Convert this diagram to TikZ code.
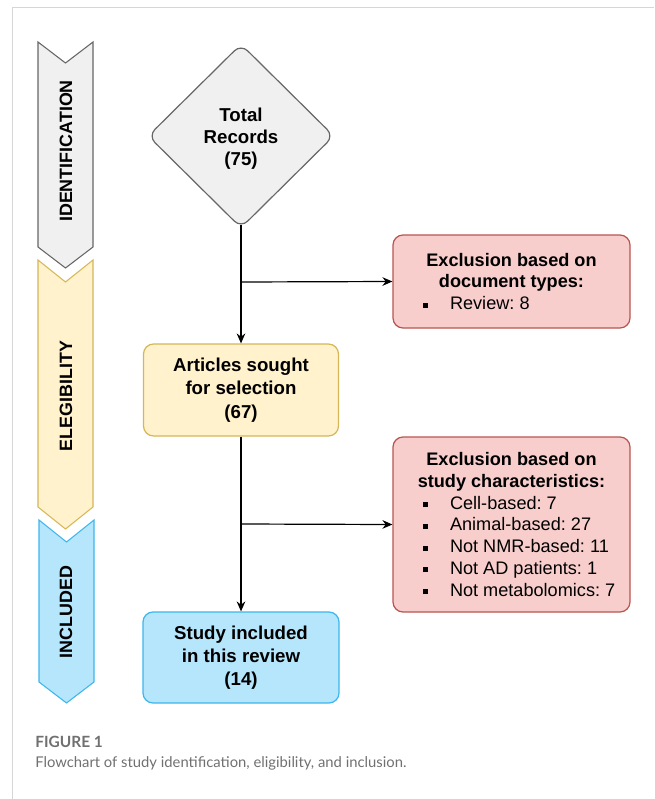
\documentclass[tikz,border=0pt]{standalone}
\usepackage{fontspec}
\setmainfont{Liberation Sans}
\newfontfamily\capfont{Lato}
\usetikzlibrary{shapes.geometric,arrows.meta}
\definecolor{gfill}{HTML}{F0F0F0}
\definecolor{gline}{HTML}{666666}
\definecolor{yfill}{HTML}{FFF2CC}
\definecolor{yline}{HTML}{D6B656}
\definecolor{rfill}{HTML}{F8CECC}
\definecolor{rline}{HTML}{B85450}
\definecolor{bfill}{HTML}{B5E6FB}
\definecolor{bline}{HTML}{3DB6EE}
\definecolor{frame}{HTML}{D6D6D6}
\definecolor{captxt}{HTML}{707070}
\frenchspacing
\newcommand\bul{\hspace*{22.5pt}\rule[1.6pt]{3.75pt}{3.75pt}\hspace*{16.5pt}}
\newcommand\itm[1]{\makebox[177.75pt][l]{\bul #1}}
\begin{document}
\begin{tikzpicture}[x=0.75pt,y=-0.75pt,
  chev/.style={line width=0.8pt, line join=miter},
  chevtext/.style={rotate=90, font=\bfseries\fontsize{13.4}{16}\selectfont},
  box/.style={draw, rounded corners=7.5pt, line width=0.9pt, align=center, inner sep=0pt},
  ybox/.style={box, fill=yfill, draw=yline, minimum width=146.25pt, minimum height=69pt,
     font=\bfseries\fontsize{14}{17.5}\selectfont},
  bbox/.style={box, fill=bfill, draw=bline, minimum width=147pt, minimum height=68.25pt,
     font=\bfseries\fontsize{14}{17.5}\selectfont},
  rbox/.style={box, fill=rfill, draw=rline, minimum width=177.75pt,
     font=\fontsize{13.6}{16.3}\selectfont},
  conn/.style={line width=0.9pt, -{Stealth[length=7.5pt,width=6.5pt,inset=2.5pt]}},
  plain/.style={line width=0.9pt}
]
\useasboundingbox (0,0) rectangle (654,799);
% frame
\draw[frame, line width=1pt] (12.5,799) -- (12.5,7.5) -- (654,7.5);

% chevrons
\draw[chev, fill=gfill, draw=gline] (38,42) -- (65.5,63) -- (93,42) -- (93,247) -- (65.5,268) -- (38,247) -- cycle;
\draw[chev, fill=yfill, draw=yline] (38,260) -- (65.5,282) -- (93,260) -- (93,507) -- (65.5,529) -- (38,507) -- cycle;
\draw[chev, fill=bfill, draw=bline] (39,520) -- (66.5,542) -- (94,520) -- (94,682) -- (66.5,703) -- (39,682) -- cycle;
\node[chevtext] (tid) at (66,151) {IDENTIFICATION};
\node[chevtext] (tel) at (66,396) {ELEGIBILITY};
\node[chevtext] (tin) at (66,612) {INCLUDED};

% diamond
\node[diamond, draw=gline, fill=gfill, line width=0.9pt, rounded corners=7pt,
  minimum width=139.5pt, minimum height=138pt, inner sep=0pt] (tot) at (241,136) {};
\node[align=center, inner sep=0pt, font=\bfseries\fontsize{14}{16.5}\selectfont] (totxt) at (241,139) {Total\\Records\\(75)};

% boxes
\node[ybox] (art) at (241,390) {Articles sought\\for selection\\(67)};
\node[bbox] (inc) at (241,657.5) {Study included\\in this review\\(14)};
\node[rbox, minimum height=69.75pt] (ex1) at (511.5,281.5)
  {{\bfseries Exclusion based on}\\{\bfseries document types:}\\\itm{Review: 8}};
\node[rbox, minimum height=131.25pt] (ex2) at (511.5,524.5)
  {{\bfseries Exclusion based on}\\{\bfseries study characteristics:}\\
   \itm{Cell-based: 7}\\\itm{Animal-based: 27}\\\itm{Not NMR-based: 11}\\
   \itm{Not AD patients: 1}\\\itm{Not metabolomics: 7}};

% connectors
\coordinate (j1) at (241,282);
\coordinate (j2) at (241,524);
\draw[conn, shorten <=-3pt] (tot.south) -- (art.north);
\draw[conn] (j1) -- (ex1.west);
\draw[conn] (art.south) -- (inc.north);
\draw[conn] (j2) -- (ex2.west);

% caption
\node[anchor=base west, inner sep=0pt, text=captxt, font=\capfont\bfseries\fontsize{11.6}{14}\selectfont] (fig) at (35,747) {FIGURE 1};
\node[anchor=base west, inner sep=0pt, text=captxt, font=\capfont\fontsize{11.1}{14}\selectfont] (cap) at (35,767) {Flowchart of study identification, eligibility, and inclusion.};
\end{tikzpicture}
\end{document}
